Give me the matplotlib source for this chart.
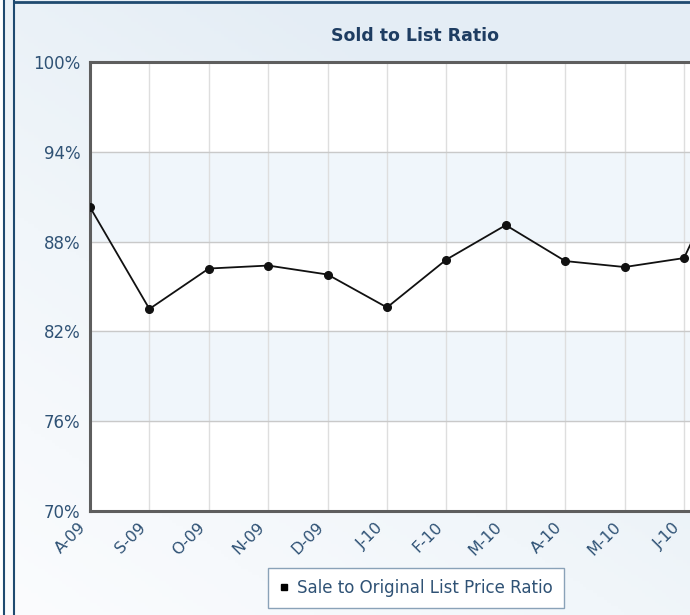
import matplotlib

matplotlib.use('Agg')
import numpy as np
import matplotlib.pyplot as plt
from matplotlib.lines import Line2D
from matplotlib.colors import LinearSegmentedColormap

# Data
months = ['A-09', 'S-09', 'O-09', 'N-09', 'D-09', 'J-10',
          'F-10', 'M-10', 'A-10', 'M-10', 'J-10', 'J-10']
ratio = [90.3, 83.5, 86.2, 86.4, 85.8, 83.6,
         86.8, 89.1, 86.7, 86.3, 86.9, 95.3]
y_ticks = [70, 76, 82, 88, 94, 100]

W, H = 690, 615
fig = plt.figure(figsize=(W / 100, H / 100), dpi=100)

# Background gradient
bg = fig.add_axes([0, 0, 1, 1], zorder=-2)
gx, gy = np.meshgrid(np.linspace(0, 1, 200), np.linspace(0, 1, 200))
grad = np.clip(0.55 * gx + 0.75 * gy, 0, 1)
cmap = LinearSegmentedColormap.from_list('bg', ['#fbfcfe', '#f1f6fa', '#e4edf5'])
bg.imshow(grad, cmap=cmap, origin='lower', extent=[0, 1, 0, 1], aspect='auto')
bg.set_xlim(0, 1)
bg.set_ylim(0, 1)
bg.axis('off')
# panel borders
bg.add_patch(plt.Rectangle((0, 0), 4 / W, 1, color='white', zorder=1))
bg.axvline(4 / W, color='#1f4a70', lw=1.5, zorder=2)
bg.axvline(13.5 / W, color='#1f4a70', lw=1.5, zorder=2)
bg.plot([13.5 / W, 1], [1 - 1.5 / H, 1 - 1.5 / H], color='#1f4a70', lw=2, zorder=2)

# Plot area (runs past the right edge of the picture, like the reference crop)
left, right, top, bottom = 90, 90 + 59.4 * 12, 62, 511
ax = fig.add_axes([left / W, 1 - bottom / H, (right - left) / W, (bottom - top) / H])
ax.set_facecolor('white')
x = np.arange(len(months))

# alternating bands
for lo in (76, 88):
    ax.axhspan(lo, lo + 6, color='#f0f6fb', zorder=0)

ax.plot(x, ratio, color='#111111', lw=1.3, marker='o', markersize=5.5, zorder=3)

ax.set_yticks(y_ticks)
ax.set_yticklabels([f'{v}%' for v in y_ticks], fontsize=12)
ax.set_xticks(x)
ax.set_xticklabels([])
ax.set_xlim(0, 12)
ax.set_ylim(70, 100)

# slanted month labels, nudged a little left of each tick
for i, m in enumerate(months):
    ax.annotate(m, xy=(i, 0), xycoords=ax.get_xaxis_transform(),
                xytext=(-6, -14), textcoords='offset pixels',
                rotation=45, ha='right', va='center', rotation_mode='anchor',
                fontsize=11.5, color='#2f5275', annotation_clip=False)

ax.tick_params(axis='both', length=0, colors='#2f5275')
ax.tick_params(axis='y', pad=7)
ax.grid(axis='y', color='#c9c9c9', lw=1)
ax.grid(axis='x', color='#dedede', lw=1)
ax.set_axisbelow(True)
for s in ('left', 'bottom', 'top'):
    ax.spines[s].set_color('#5e5e5e')
    ax.spines[s].set_linewidth(2.2)
ax.spines['right'].set_visible(False)

fig.text(415 / W, 1 - 36 / H, 'Sold to List Ratio', ha='center', va='center',
         fontsize=12.5, fontweight='bold', color='#1e3d62')

handle = Line2D([], [], marker='s', color='black', linestyle='none', markersize=4.5)
leg = ax.legend([handle], ['Sale to Original List Price Ratio'], loc='center',
                bbox_to_anchor=(416 / W, 1 - 588 / H), bbox_transform=fig.transFigure,
                fancybox=False, edgecolor='#8aa2b8', facecolor='white', framealpha=1,
                fontsize=12, handlelength=0.6, handletextpad=0.5, borderpad=0.65)
for t in leg.get_texts():
    t.set_color('#2f5275')

fig.savefig('out.png', dpi=100)
